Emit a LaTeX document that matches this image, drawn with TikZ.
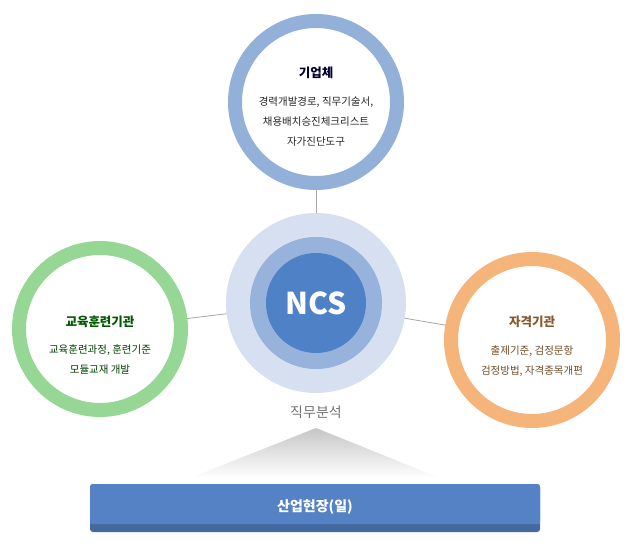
\documentclass[tikz,border=0pt]{standalone}
\usepackage{fontspec}
\setmainfont{Noto Sans CJK KR}
\usetikzlibrary{calc}
\definecolor{cblue}{HTML}{93B0D9}
\definecolor{cgreen}{HTML}{97D795}
\definecolor{corange}{HTML}{F5B57A}
\definecolor{clight}{HTML}{D6E0F0}
\definecolor{cmid}{HTML}{97B3DC}
\definecolor{cdark}{HTML}{4F81C7}
\definecolor{cbar}{HTML}{5582C4}
\definecolor{cbarb}{HTML}{44699F}
\begin{document}
\begin{tikzpicture}[x=1pt,y=-1pt,
  ring/.style={circle,line width=14pt,fill=white,minimum size=162pt,inner sep=0pt},
  conn/.style={draw=gray!70,line width=0.8pt},
  ttl/.style={font=\bfseries\fontsize{12.5}{14}\selectfont},
  sub/.style={font=\fontsize{10.5}{12}\selectfont,align=center}]
\useasboundingbox (0,0) rectangle (641,546);
\coordinate (tc) at (316,102);
\coordinate (cc) at (316,303);
\coordinate (lc) at (100,329);
\coordinate (rc) at (532,340);
\draw[conn] (tc) -- (cc);
\draw[conn] (lc) -- (cc);
\draw[conn] (rc) -- (cc);
\node[ring,draw=cblue] (top) at (tc) {};
\node[ring,draw=cgreen] (left) at (lc) {};
\node[ring,draw=corange] (right) at (rc) {};
\node[circle,fill=clight,minimum size=180pt,inner sep=0pt] (big) at (cc) {};
\node[circle,fill=cmid,minimum size=132pt,inner sep=0pt] (midc) at (cc) {};
\node[circle,fill=cdark,minimum size=100pt,inner sep=0pt,text=white,font=\bfseries\fontsize{30}{32}\selectfont] (ncs) at (cc) {NCS};
\node[ttl,text=black!80!blue] (t1) at (316,73) {기업체};
\node[sub,text=black!85] (t2) at (316,122) {경력개발경로, 직무기술서,\\[8pt]채용배치승진체크리스트\\[8pt]자가진단도구};
\node[ttl,text=green!35!black] (l1) at (100,322) {교육훈련기관};
\node[sub,text=green!25!black] (l2) at (100,360) {교육훈련과정, 훈련기준\\[8pt]모듈교재 개발};
\node[ttl,text=brown!70!black] (r1) at (532,322) {자격기관};
\node[sub,text=brown!60!black] (r2) at (532,361) {출제기준, 검정문항\\[8pt]검정방법, 자격종목개편};
\node[text=gray!90!black,font=\fontsize{14}{16}\selectfont] (ja) at (316,412) {직무분석};
\shade[top color=gray!45,bottom color=white] (316,428) -- (440,478) -- (190,478) -- cycle;
\fill[cbarb,rounded corners=3pt] (90,484) rectangle (540,532);
\fill[cbar,rounded corners=3pt] (90,484) rectangle (540,524);
\fill[cbar] (90,515) rectangle (540,524);
\node[text=white,font=\bfseries\fontsize{14}{16}\selectfont] (bar) at (315,507) {산업현장(일)};
\end{tikzpicture}
\end{document}
